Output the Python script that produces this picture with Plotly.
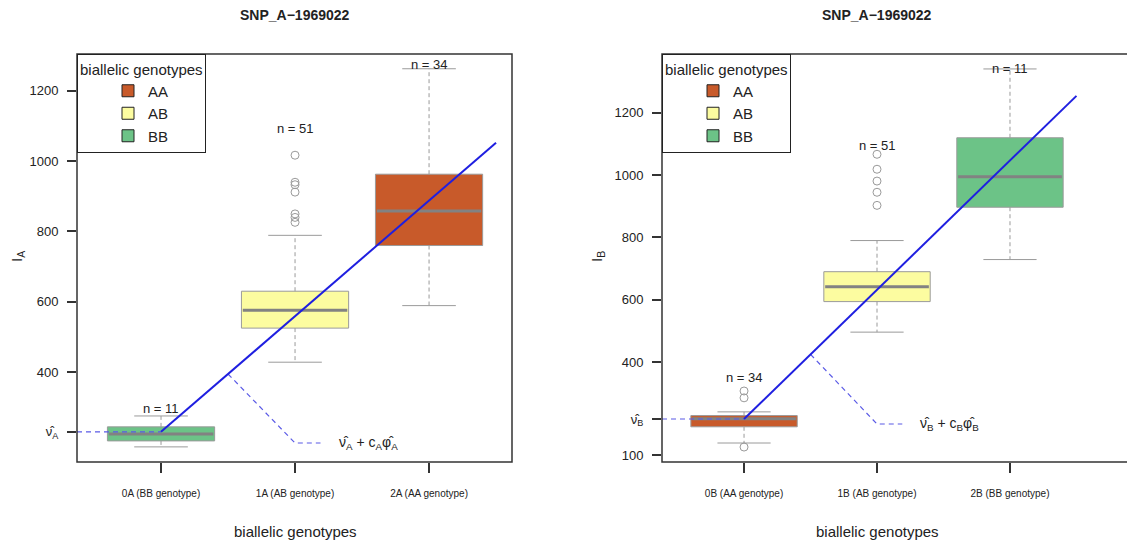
import plotly.graph_objects as go

# ---------------- data ----------------
title_text = "SNP_A\u22121969022"

cats_A = ["0A (BB genotype)", "1A (AB genotype)", "2A (AA genotype)"]
geno_A = ["BB", "AB", "AA"]
q1_A = [204, 525, 760]
med_A = [224, 576, 858]
q3_A = [244, 630, 963]
lo_A = [187, 428, 589]
hi_A = [275, 789, 1263]
n_A = [11, 51, 34]
out_A_idx = [1, 1, 1, 1, 1, 1, 1]
out_A_val = [1017, 940, 933, 912, 850, 840, 826]
nu_A = 230
cphi_A = 329

cats_B = ["0B (AA genotype)", "1B (AB genotype)", "2B (BB genotype)"]
geno_B = ["AA", "AB", "BB"]
q1_B = [192, 594, 897]
med_B = [218, 642, 995]
q3_B = [228, 690, 1120]
lo_B = [140, 496, 729]
hi_B = [240, 790, 1341]
n_B = [34, 51, 11]
out_B_idx = [0, 0, 0, 1, 1, 1, 1, 1]
out_B_val = [307, 285, 127, 1067, 1019, 981, 945, 903]
nu_B = 217
cphi_B = 415

legend_labels = ["AA", "AB", "BB"]
yticks_A = [400, 600, 800, 1000, 1200]
yticks_B = [100, 400, 600, 800, 1000, 1200]

# ---------------- styles ----------------
COLORS = {"AA": "#C85A2A", "AB": "#FCFCA0", "BB": "#6CC387"}
GRAY = "#9A9A9A"
MED = "#828282"
FRAME = "#333333"
BLUE = "#1F1FE0"
DASHBLUE = "#5A5AE6"
FONT = "Liberation Sans, Arial, Helvetica, sans-serif"
W, H = 1127, 541
HALF = 0.4
CAP = 0.2

fig = go.Figure()


def add_panel(xa, ya, geno, q1, med, q3, lo, hi, out_idx, out_val, nu, cphi, xmin, leader_y, legend):
    # boxes
    for i, g in enumerate(geno):
        fig.add_trace(go.Scatter(
            x=[i - HALF, i + HALF, i + HALF, i - HALF, i - HALF],
            y=[q1[i], q1[i], q3[i], q3[i], q1[i]],
            mode="lines", fill="toself", fillcolor=COLORS[g],
            line=dict(color=GRAY, width=1), xaxis=xa, yaxis=ya,
            showlegend=False, hoverinfo="skip"))
    # whiskers (dashed)
    wx, wy = [], []
    for i in range(len(geno)):
        wx += [i, i, None, i, i, None]
        wy += [q3[i], hi[i], None, q1[i], lo[i], None]
    fig.add_trace(go.Scatter(x=wx, y=wy, mode="lines",
                             line=dict(color=GRAY, width=1, dash="4px,3px"),
                             xaxis=xa, yaxis=ya, showlegend=False, hoverinfo="skip"))
    # caps
    cx, cy = [], []
    for i in range(len(geno)):
        cx += [i - CAP, i + CAP, None, i - CAP, i + CAP, None]
        cy += [hi[i], hi[i], None, lo[i], lo[i], None]
    fig.add_trace(go.Scatter(x=cx, y=cy, mode="lines",
                             line=dict(color=GRAY, width=1),
                             xaxis=xa, yaxis=ya, showlegend=False, hoverinfo="skip"))
    # medians
    mx, my = [], []
    for i in range(len(geno)):
        mx += [i - HALF + 0.01, i + HALF - 0.01, None]
        my += [med[i], med[i], None]
    fig.add_trace(go.Scatter(x=mx, y=my, mode="lines",
                             line=dict(color=MED, width=3),
                             xaxis=xa, yaxis=ya, showlegend=False, hoverinfo="skip"))
    # outliers
    fig.add_trace(go.Scatter(x=out_idx, y=out_val, mode="markers",
                             marker=dict(symbol="circle-open", size=8, color=GRAY,
                                         line=dict(width=1, color=GRAY)),
                             xaxis=xa, yaxis=ya, showlegend=False, hoverinfo="skip"))
    # dashed nu-hat guide
    fig.add_trace(go.Scatter(x=[xmin, 0], y=[nu, nu], mode="lines",
                             line=dict(color=DASHBLUE, width=1.2, dash="5px,4px"),
                             xaxis=xa, yaxis=ya, showlegend=False, hoverinfo="skip"))
    # dashed leader to formula label
    fig.add_trace(go.Scatter(x=[0.5, 1.0, 1.19], y=[nu + 0.5 * cphi, leader_y, leader_y], mode="lines",
                             line=dict(color=DASHBLUE, width=1.2, dash="5px,4px"),
                             xaxis=xa, yaxis=ya, showlegend=False, hoverinfo="skip"))
    # fitted line
    fig.add_trace(go.Scatter(x=[0, 2.5], y=[nu, nu + 2.5 * cphi], mode="lines",
                             line=dict(color=BLUE, width=2),
                             xaxis=xa, yaxis=ya, showlegend=False, hoverinfo="skip"))
    # legend entries
    for lab in legend_labels:
        fig.add_trace(go.Scatter(x=[None], y=[None], mode="markers", name=lab,
                                 marker=dict(symbol="square", size=12, color=COLORS[lab],
                                             line=dict(color="#222", width=1)),
                                 xaxis=xa, yaxis=ya, legend=legend, showlegend=True))


add_panel("x", "y", geno_A, q1_A, med_A, q3_A, lo_A, hi_A, out_A_idx, out_A_val,
          nu_A, cphi_A, -0.627, 198, "legend")
add_panel("x2", "y2", geno_B, q1_B, med_B, q3_B, lo_B, hi_B, out_B_idx, out_B_val,
          nu_B, cphi_B, -0.617, 201, "legend2")

ydom = [1 - 462 / H, 1 - 54 / H]
axis_common = dict(showgrid=False, zeroline=False, showline=False, ticks="outside",
                   tickcolor=FRAME, tickwidth=1.5, color="#222", automargin=False)

fig.update_layout(
    width=W, height=H, margin=dict(l=0, r=0, t=0, b=0, autoexpand=False),
    paper_bgcolor="white", plot_bgcolor="white",
    font=dict(family=FONT, color="#222"),
    xaxis=dict(domain=[77 / W, 512 / W], range=[-0.627, 2.619], tickvals=[0, 1, 2],
               ticktext=cats_A, ticklen=10, tickfont=dict(size=10), ticklabelstandoff=12,
               anchor="y", **axis_common),
    yaxis=dict(domain=ydom, range=[144, 1305],
               tickvals=[nu_A] + yticks_A,
               ticktext=["\u03bd\u0302<sub>A</sub>"] + [str(v) for v in yticks_A],
               ticklen=9, tickfont=dict(size=13), ticklabelstandoff=6, anchor="x",
               **axis_common),
    xaxis2=dict(domain=[662 / W, 1.0], range=[-0.617, 2.88], tickvals=[0, 1, 2],
                ticktext=cats_B, ticklen=10, tickfont=dict(size=10), ticklabelstandoff=12,
                anchor="y2", **axis_common),
    yaxis2=dict(domain=ydom, range=[79, 1389],
                tickvals=[nu_B] + yticks_B,
                ticktext=["\u03bd\u0302<sub>B</sub>"] + [str(v) for v in yticks_B],
                ticklen=9, tickfont=dict(size=13), ticklabelstandoff=6, anchor="x2",
                **axis_common),
    legend=dict(x=77 / W, y=1 - 54 / H, xanchor="left", yanchor="top",
                bgcolor="white", bordercolor="#222", borderwidth=1,
                font=dict(size=15), title=dict(text="biallelic genotypes", font=dict(size=15)),
                indentation=30, itemwidth=30, tracegroupgap=0),
    legend2=dict(x=662 / W, y=1 - 54 / H, xanchor="left", yanchor="top",
                 bgcolor="white", bordercolor="#222", borderwidth=1,
                 font=dict(size=15), title=dict(text="biallelic genotypes", font=dict(size=15)),
                 indentation=30, itemwidth=30, tracegroupgap=0),
)

# frames
fig.add_shape(type="rect", xref="x domain", yref="y domain", x0=0, x1=1, y0=0, y1=1,
              line=dict(color=FRAME, width=1.5), layer="above")
fig.add_shape(type="rect", xref="x2 domain", yref="y2 domain", x0=0, x1=1.05, y0=0, y1=1,
              line=dict(color=FRAME, width=1.5), layer="above")

N_LABEL_Y_A = [297, 1094, 1274]
N_LABEL_Y_B = [349, 1094, 1341]
ann = []
for i, n in enumerate(n_A):
    ann.append(dict(x=i, y=N_LABEL_Y_A[i], xref="x", yref="y", text=f"n = {n}",
                    showarrow=False, font=dict(size=13), xanchor="center", yanchor="middle"))
for i, n in enumerate(n_B):
    ann.append(dict(x=i, y=N_LABEL_Y_B[i], xref="x2", yref="y2", text=f"n = {n}",
                    showarrow=False, font=dict(size=13), xanchor="center", yanchor="middle"))
C = dict(xanchor="center", yanchor="middle", showarrow=False, xref="paper", yref="paper")
ann += [
    dict(x=1.31, y=198, xref="x", yref="y", xanchor="left", yanchor="middle",
         text="\u03bd\u0302<sub>A</sub> + c<sub>A</sub>\u03c6\u0302<sub>A</sub>",
         showarrow=False, font=dict(size=14)),
    dict(x=1.31, y=201, xref="x2", yref="y2", xanchor="left", yanchor="middle",
         text="\u03bd\u0302<sub>B</sub> + c<sub>B</sub>\u03c6\u0302<sub>B</sub>",
         showarrow=False, font=dict(size=14)),
    dict(x=295 / W, y=1 - 15 / H, text=f"<b>{title_text}</b>", font=dict(size=14), **C),
    dict(x=877 / W, y=1 - 15 / H, text=f"<b>{title_text}</b>", font=dict(size=14), **C),
    dict(x=295 / W, y=1 - 531 / H, text="biallelic genotypes", font=dict(size=15), **C),
    dict(x=877 / W, y=1 - 531 / H, text="biallelic genotypes", font=dict(size=15), **C),
    dict(x=17 / W, y=1 - 257 / H, text="I<sub>A</sub>", textangle=-90, font=dict(size=15), **C),
    dict(x=597 / W, y=1 - 257 / H, text="I<sub>B</sub>", textangle=-90, font=dict(size=15), **C),
]
fig.update_layout(annotations=ann)

fig.write_html("out.html", config={"displayModeBar": False},
               post_script="document.body.style.margin='0';")
